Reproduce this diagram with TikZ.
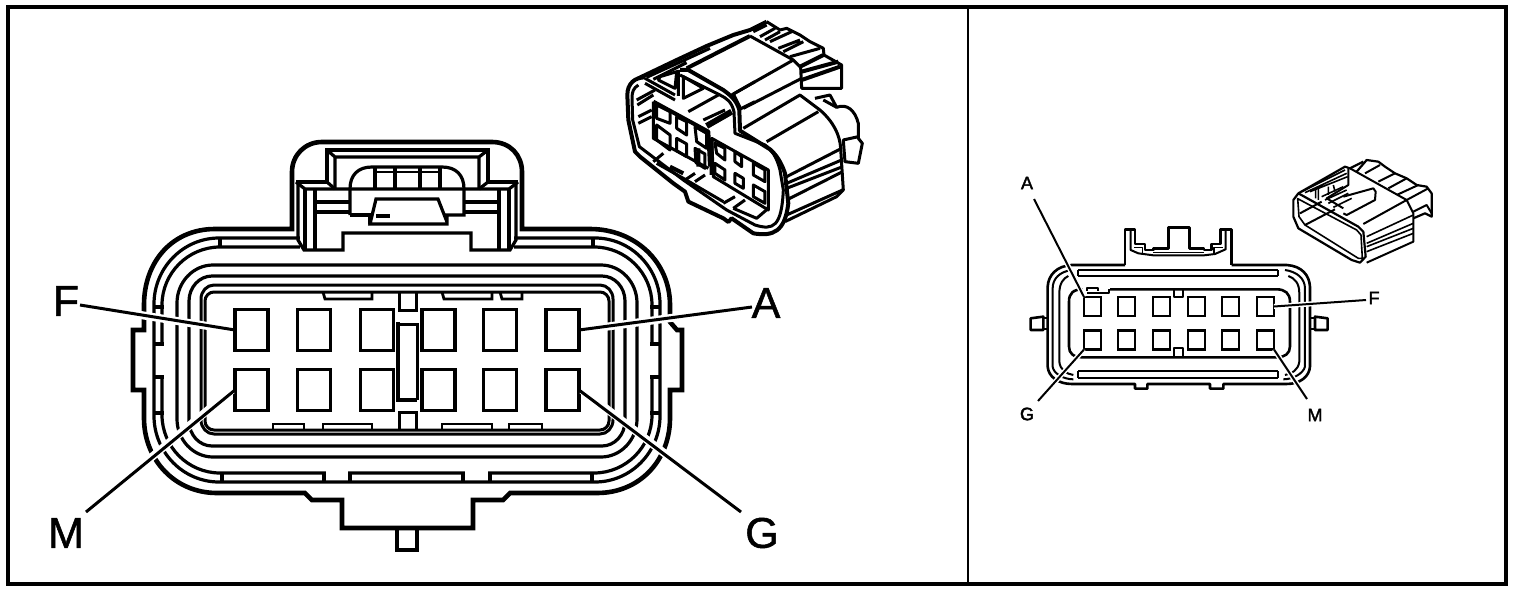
\documentclass[tikz,border=0pt]{standalone}
\usepackage{fontspec}
\usetikzlibrary{calc}
\setmainfont{Liberation Sans}
\newfontfamily\bigf[FakeBold=1.2]{Liberation Sans}
\newfontfamily\smallf[FakeBold=2.2]{Liberation Sans}
\newcommand{\ring}[7][]{%
 \pgfmathsetmacro\aL{#2+#6}\pgfmathsetmacro\aR{#4-#6}\pgfmathsetmacro\aT{#3+#7}\pgfmathsetmacro\aB{#5-#7}%
 \pgfmathsetmacro\kx{0.45*#6}\pgfmathsetmacro\ky{0.45*#7}%
 \pgfmathsetmacro\cL{#2+\kx}\pgfmathsetmacro\cR{#4-\kx}\pgfmathsetmacro\cT{#3+\ky}\pgfmathsetmacro\cB{#5-\ky}%
 \draw[#1] (\aL,#3) -- (\aR,#3) .. controls (\cR,#3) and (#4,\cT) .. (#4,\aT) -- (#4,\aB)
  .. controls (#4,\cB) and (\cR,#5) .. (\aR,#5) -- (\aL,#5)
  .. controls (\cL,#5) and (#2,\cB) .. (#2,\aB) -- (#2,\aT)
  .. controls (#2,\cT) and (\cL,#3) .. (\aL,#3) -- cycle;}
\tikzset{
 ln/.style={line width=3.2pt,line join=miter},
 thk/.style={line width=4.6pt,line join=miter},
 lab/.style={font=\bigf\fontsize{43}{43}\selectfont,inner sep=0pt},
 slab/.style={font=\smallf\fontsize{18}{18}\selectfont,inner sep=0pt},
 pinb/.style={draw,line width=3.2pt,inner sep=0pt,outer sep=0pt,minimum width=33pt,minimum height=41pt},
 spin/.style={draw,line width=2.2pt,inner sep=0pt,outer sep=0pt,minimum width=17pt,minimum height=19pt},
 halo/.style={white,line width=8pt},
 lead/.style={line width=3pt},
 sln/.style={line width=2pt,line join=round},
 iso/.style={line width=3pt,line join=round},
 isob/.style={line width=4pt,line join=round},
 isos/.style={line width=1.6pt,line join=round},
}
\begin{document}
\begin{tikzpicture}[x=1pt,y=-1pt]
\useasboundingbox (0,0) rectangle (1520,592);
\fill[white] (0,0) rectangle (1520,592);
% frame
\draw[line width=3.4pt] (8,7) rectangle (1506,584);
\draw[line width=2pt] (968,7) -- (968,584);
% ---------- large front view: rings
\ring[ln]{177}{265}{637}{457}{36}{38}
\ring[ln]{189}{276}{625}{446}{23}{25}
\ring[ln,line width=3pt]{201}{285}{613}{434}{13}{14}
\ring[ln,line width=3pt]{205}{292}{609}{430}{9}{9}
\ring[ln]{154}{238}{660}{482}{65}{66}
\ring[ln]{162}{247}{652}{473}{58}{58}
\fill[white] (158,344) rectangle (166,376);
\fill[white] (648,344) rectangle (656,376);
\fill[white] (326,469) rectangle (348,477);
\fill[white] (465,469) rectangle (488,477);
\fill[white] (300,233) rectangle (514,252);
% caps of the ring segments
\draw[ln] (153,344) -- (164,344) (153,377) -- (164,377) (153,413) -- (164,413);
\draw[ln] (650,344) -- (661,344) (650,377) -- (661,377) (650,413) -- (661,413);
\draw[ln] (153,307) -- (164,307) (650,307) -- (661,307);
\draw[ln] (222,473) -- (222,482) (324,473) -- (324,482) (350,473) -- (350,482) (463,473) -- (463,482) (490,473) -- (490,482) (592,473) -- (592,482);
\draw[ln] (220,238) -- (220,247) (593,238) -- (593,247);
% outer contour
\draw[thk] (292,172) .. controls (292,155) and (305,142) .. (322,142) -- (492,142) .. controls (510,142) and (522,155) .. (522,172) -- (522,229) -- (590,229)
 .. controls (635,229) and (670,262) .. (670,305) -- (670,322) -- (677,330) -- (682,330) -- (682,390) -- (670,390) -- (670,418)
 .. controls (670,460) and (640,493) .. (597,493) -- (510,493) -- (503,500) -- (473,500) -- (473,528) -- (342,528) -- (342,500) -- (312,500) -- (305,493) -- (217,493)
 .. controls (175,493) and (144,460) .. (144,418) -- (144,390) -- (133,390) -- (133,330) -- (144,330) -- (144,305)
 .. controls (144,262) and (172,229) .. (215,229) -- (292,229) -- cycle;
\draw[ln,line width=4pt] (397,528) -- (397,550) -- (417,550) -- (417,528);
% tab interior
\fill[white] (299,184) rectangle (516,232);
\draw[ln] (298,181) -- (298,240) -- (304,250) -- (343,250) -- (343,233) -- (471,233) -- (471,250) -- (510,250) -- (516,240) -- (516,181);
\draw[ln] (305,189) -- (305,250) (315,189) -- (315,250) (509,189) -- (509,250) (499,189) -- (499,250);
\draw[ln] (296,182) -- (305,189) -- (509,189) -- (518,182);
\draw[ln] (296,182) -- (327,182) -- (327,150) -- (488,150) -- (488,182) -- (518,182);
\draw[ln] (327,150) -- (335,157) -- (479,157) -- (488,150) (335,157) -- (335,189) (479,157) -- (479,189);
\draw[ln] (327,182) -- (335,189) (488,182) -- (479,189);
\draw[ln] (315,202) -- (350,202) (315,212) -- (350,212) (464,202) -- (499,202) (464,212) -- (499,212);
\draw[ln] (350,215) -- (350,189) .. controls (350,175) and (358,167) .. (372,167) -- (442,167) .. controls (456,167) and (464,175) .. (464,189) -- (464,215) -- (447,215) -- (447,224) -- (370,224) -- (376,199) -- (438,199) -- (447,222);
\draw[ln] (350,215) -- (370,215) -- (370,224) (376,216) -- (390,216);
\draw[ln] (375,167) -- (375,189) (395,167) -- (395,189) (420,167) -- (420,189) (440,167) -- (440,189);
\draw[line width=2pt] (375,172) -- (440,172);
% small bars and centre keys
\draw[line width=2.8pt] (323,292) -- (325,299) -- (372,299) -- (372,292);
\draw[line width=2.8pt] (442,292) -- (444,299) -- (492,299) -- (492,292);
\draw[line width=2.8pt] (500,292) -- (502,299) -- (522,299) -- (522,292);
\draw[line width=2.8pt] (273,430) -- (273,424) -- (304,424) -- (304,430);
\draw[line width=2.8pt] (323,430) -- (323,424) -- (372,424) -- (372,430);
\draw[line width=2.8pt] (442,430) -- (442,424) -- (492,424) -- (492,430);
\draw[line width=2.8pt] (509,430) -- (509,424) -- (542,424) -- (542,430);
\draw[line width=3pt] (399,292) -- (399,310) -- (416,310) -- (416,292);
\draw[line width=3pt] (399,430) -- (399,412) -- (416,412) -- (416,430);
\draw[line width=4pt] (398,322) -- (398,400) -- (417,400);
\draw[line width=3pt] (398,324) -- (417,324) -- (417,400);
% pins and leaders
\node[lab,anchor=center] (labF) at (66,301) {F};
\node[lab,anchor=center] (labA) at (766,303) {A};
\node[lab,anchor=center] (labM) at (66,533) {M};
\node[lab,anchor=center] (labG) at (762,533) {G};
\coordinate (lF) at (80,305);\coordinate (lA) at (752,307);\coordinate (lM) at (86,512);\coordinate (lG) at (741,512);
\node[pinb] (pF) at (251.5,330) {};
\node[pinb] (p2) at (314,330) {};
\node[pinb] (p3) at (377,330) {};
\node[pinb] (p4) at (438.5,330) {};
\node[pinb] (p5) at (500,330) {};
\node[pinb] (pA) at (562.5,330) {};
\node[pinb] (pM) at (251.5,390) {};
\node[pinb] (p8) at (314,390) {};
\node[pinb] (p9) at (377,390) {};
\node[pinb] (p10) at (438.5,390) {};
\node[pinb] (p11) at (500,390) {};
\node[pinb] (pG) at (562.5,390) {};
\draw[halo] (lF) -- ($(pF.west)+(-3,0)$);
\draw[halo] (lA) -- ($(pA.east)+(3,0)$);
\draw[halo] (lM) -- ($(pM.west)+(-3,0)$);
\draw[halo] (lG) -- ($(pG.east)+(3,0)$);
\draw[lead] (lF) -- (pF.west);
\draw[lead] (lA) -- (pA.east);
\draw[lead] (lM) -- (pM.west);
\draw[lead] (lG) -- (pG.east);
% ---------- large isometric view
\begin{scope}[x=.3333pt,y=-.3333pt,xshift=610pt,yshift=-20pt]
% top strip
\draw[isob] (85,175) -- (200,120) -- (290,78) -- (370,45) -- (420,30) -- (470,5);
\draw[iso] (110,172) -- (300,85) (130,178) -- (230,128);
% upper body
\draw[isob] (420,48) -- (230,145);
\draw[iso] (420,48) -- (550,120) -- (370,222) (550,120) -- (572,142) -- (575,205) -- (695,205) -- (695,135) -- (642,105) -- (640,85) -- (600,65) -- (570,45) -- (530,25) -- (510,30) -- (470,5);
\draw[iso] (400,265) -- (575,175) (370,222) -- (390,262);
\draw[iso] (430,35) -- (470,15) (450,50) -- (495,25) (465,60) -- (510,35) (480,65) -- (545,35) (505,85) -- (570,60) (520,95) -- (580,65) (540,110) -- (630,85);
\draw[isob] (570,140) -- (640,105) (575,155) -- (685,125) (575,180) -- (690,140);
% lower body
\draw[iso] (400,325) -- (570,225) -- (630,270) .. controls (670,305) and (690,345) .. (692,385) -- (700,510) -- (680,530) -- (525,605);
\draw[iso] (470,365) -- (625,275);
\draw[iso] (435,245) -- (385,270) (435,185) -- (365,225);
\draw[iso] (530,470) -- (695,385) (530,490) -- (695,420) (530,505) -- (698,440) (530,540) -- (698,455) (530,585) -- (698,510);
\draw[iso] (615,235) -- (660,225) -- (680,262) .. controls (710,250) and (735,270) .. (745,310) -- (745,355) -- (757,370) -- (745,430) -- (705,425) -- (700,360) -- (745,350);
\draw[iso] (640,240) -- (680,262);
% rim
\draw[isob] (105,172) .. controls (75,172) and (52,190) .. (52,225) -- (55,300) -- (75,395) -- (90,410) -- (190,490) -- (225,515) -- (235,545) -- (340,595) -- (355,606) -- (365,595) -- (430,640) .. controls (490,650) and (525,635) .. (535,550) -- (525,460) .. controls (515,430) and (500,405) .. (480,388) -- (390,332) -- (388,270) .. controls (380,240) and (360,225) .. (340,210) -- (235,150) -- (210,150);
\draw[iso] (85,195) .. controls (70,205) and (66,215) .. (66,235) -- (68,300) -- (88,380) -- (220,480) -- (350,570) -- (435,615) .. controls (490,632) and (515,620) .. (520,510) -- (510,450) .. controls (500,410) and (485,390) .. (465,375) -- (375,340) -- (372,275) .. controls (365,245) and (350,235) .. (330,225) -- (210,165);
\draw[iso] (105,175) -- (195,225) (105,190) -- (195,240);
\draw[iso] (205,150) -- (205,228) (150,170) -- (200,155) -- (195,205) -- (145,180) -- cycle;
\draw[iso] (220,170) -- (280,205) -- (220,235) -- cycle;
\draw[iso] (235,275) -- (325,225) (280,300) -- (345,270);
\draw[isob,line width=6pt] (290,318) -- (365,275);
\draw[iso] (80,240) -- (135,210) (82,255) -- (130,225) (85,290) -- (125,270) (85,310) -- (125,290);
% pin plates
\draw[isob] (130,245) -- (295,335) -- (300,440);
\draw[iso] (130,245) -- (130,355) -- (295,445);
\draw[iso] (305,355) -- (475,450) -- (475,570) -- (310,470) -- cycle;
\draw[isob] (180,440) -- (220,460) (265,385) -- (265,440) (305,355) -- (305,465);
\draw[iso] (140,255) -- (180,275) -- (180,310) -- (140,295) -- cycle;
\draw[iso] (200,290) -- (230,305) -- (230,345) -- (200,325) -- cycle;
\draw[iso] (255,320) -- (290,340) -- (290,385) -- (260,365) -- cycle;
\draw[iso] (140,315) -- (180,345) -- (180,390) -- (140,360) -- cycle;
\draw[iso] (200,355) -- (230,372) -- (230,410) -- (200,392) -- cycle;
\draw[iso] (255,385) -- (285,402) -- (285,445) -- (258,428) -- cycle;
\draw[iso] (315,370) -- (345,385) -- (345,420) -- (320,400) -- cycle;
\draw[iso] (375,395) -- (395,410) -- (395,440) -- (375,425) -- cycle;
\draw[iso] (430,430) -- (465,450) -- (465,485) -- (430,465) -- cycle;
\draw[iso] (315,430) -- (345,450) -- (345,480) -- (315,460) -- cycle;
\draw[iso] (375,460) -- (400,475) -- (400,505) -- (375,490) -- cycle;
\draw[iso] (430,495) -- (465,515) -- (465,550) -- (430,530) -- cycle;
% skirt under plates
\draw[iso] (130,425) -- (160,400) (225,480) -- (255,460) (255,485) -- (285,465) (340,550) -- (375,530) (370,565) -- (405,540);
\draw[iso] (140,430) -- (220,475) -- (340,545) (370,565) -- (440,595) -- (475,565);
\end{scope}
% ---------- small front view
\begin{scope}[x=.3333pt,y=-.3333pt,xshift=1010pt,yshift=-170pt]
\draw[sln,line width=2.6pt] (345,285) -- (185,285) .. controls (140,288) and (115,315) .. (113,350) -- (113,590) .. controls (115,620) and (145,642) .. (185,642) -- (375,642) -- (375,656) -- (412,656) -- (412,642) -- (600,642) -- (600,656) -- (640,656) -- (640,642) -- (830,642) .. controls (870,642) and (898,620) .. (900,590) -- (900,350) .. controls (898,315) and (875,288) .. (830,285) -- (665,285);
\draw[sln,line width=2.6pt] (345,285) -- (345,178) -- (375,178) -- (375,222) -- (405,222) -- (405,240) -- (430,240) -- (430,235) -- (475,235) -- (475,173) -- (538,173) -- (538,235) -- (582,235) -- (582,240) -- (605,240) -- (605,222) -- (632,222) -- (632,178) -- (665,178) -- (665,285);
\draw[sln] (362,180) -- (362,240) -- (385,250) -- (430,256) -- (582,256) -- (615,252) -- (647,238) -- (647,180);
\draw[sln,line width=1.4pt] (372,232) -- (398,232) -- (398,248) (430,247) -- (582,247) (612,248) -- (612,232) -- (638,232);
% rings
\draw[sln] (205,300) -- (805,300) (205,318) -- (805,318) (205,300) -- (205,318) (805,300) -- (805,318);
\draw[sln] (205,603) -- (805,603) (205,623) -- (805,623) (205,603) -- (205,623) (805,603) -- (805,623);
\draw[sln] (185,300) .. controls (150,305) and (128,325) .. (128,355) -- (128,590) .. controls (130,610) and (160,628) .. (190,628);
\draw[sln] (175,318) .. controls (160,325) and (148,340) .. (148,370) -- (148,575) .. controls (150,600) and (170,612) .. (190,615);
\draw[sln] (825,300) .. controls (860,305) and (885,325) .. (885,355) -- (885,590) .. controls (880,610) and (850,628) .. (820,628);
\draw[sln] (835,318) .. controls (855,325) and (868,340) .. (868,370) -- (868,575) .. controls (865,600) and (845,612) .. (825,615);
% inner
\draw[sln,line width=2.6pt] (300,358) -- (800,358) .. controls (825,358) and (840,370) .. (840,395) -- (840,530) .. controls (840,550) and (825,562) .. (800,562) -- (218,562) .. controls (190,562) and (177,550) .. (177,530) -- (177,395) .. controls (177,370) and (190,358) .. (218,358);
\draw[sln] (232,362) -- (232,354) -- (265,354) -- (265,362) (232,370) -- (298,370) -- (298,358);
% tabs
\draw[sln,line width=2.6pt] (100,440) -- (62,445) -- (62,480) -- (100,480) -- cycle;
\draw[sln,line width=2.6pt] (915,440) -- (953,445) -- (953,480) -- (915,480) -- cycle;
\draw[sln] (100,445) -- (113,445) (100,476) -- (113,476) (900,445) -- (915,445) (900,476) -- (915,476);
\draw[sln] (493,358) -- (493,382) -- (520,382) -- (520,358);
\draw[sln] (493,562) -- (493,535) -- (520,535) -- (520,562);
\end{scope}
\node[spin] (sA) at (1092.5,306.5) {};
\node[spin] (s2) at (1126.5,306.5) {};
\node[spin] (s3) at (1161.5,306.5) {};
\node[spin] (s4) at (1196.5,306.5) {};
\node[spin] (s5) at (1230.5,306.5) {};
\node[spin] (sF) at (1265.5,306.5) {};
\node[spin] (sG) at (1092.5,340) {};
\node[spin] (s8) at (1126.5,340) {};
\node[spin] (s9) at (1161.5,340) {};
\node[spin] (s10) at (1196.5,340) {};
\node[spin] (s11) at (1230.5,340) {};
\node[spin] (sM) at (1265.5,340) {};
\node[slab] (tA) at (1027,183) {A};
\node[slab] (tG) at (1027,414) {G};
\node[slab] (tM) at (1315,415) {M};
\node[slab] (tF) at (1374,298) {F};
\coordinate (eA) at (1034,199);\coordinate (eG) at (1038,401);\coordinate (eM) at (1307,399);\coordinate (eF) at (1366,300);
\draw[white,line width=5pt] (eA) -- (sA.north west) (eG) -- (sG.south west) (eM) -- (sM.south east) (eF) -- (sF.east);
\draw[line width=2pt] (eA) -- (sA.north west);
\draw[line width=2pt] (eG) -- (sG.south west);
\draw[line width=2pt] (eM) -- (sM.south east);
\draw[line width=2pt] (eF) -- (sF.east);
% ---------- small isometric view
\begin{scope}[x=.3333pt,y=-.3333pt,xshift=1285pt,yshift=-150pt]
% front rim
\draw[isos,line width=2.2pt] (25,150) -- (40,130) -- (220,230) -- (235,245) -- (242,320) -- (225,338) -- (200,330) -- (40,235) -- (25,200) -- cycle;
\draw[isos] (38,146) -- (42,200) -- (60,225) -- (220,325) -- (232,325) -- (228,255) -- (215,240) -- cycle;
% roof and top
\draw[isos,line width=2.2pt] (40,130) -- (180,50) -- (195,55) -- (235,35);
\draw[isos] (50,125) -- (180,60) (60,128) -- (185,70) (75,125) -- (188,80);
\draw[isos,line width=2pt] (195,55) -- (365,150) -- (235,222) (365,150) -- (385,190) -- (385,275) -- (245,338);
% fingers
\draw[isos,line width=2.2pt] (215,65) -- (245,30) -- (280,35) -- (300,50) -- (330,70) -- (365,85) -- (395,105) -- (425,110) -- (440,130) -- (440,200) -- (420,190) -- (385,205);
\draw[isos,line width=2pt] (240,70) -- (285,45) (280,95) -- (330,70) (310,115) -- (365,85) (335,135) -- (400,105) (365,150) -- (430,115) (385,185) -- (425,165) -- (440,190);
% side ribs
\draw[isos] (245,260) -- (385,195) (245,280) -- (385,220) (245,290) -- (385,235) (245,305) -- (385,250);
% interior
\draw[isos,line width=2pt] (175,140) -- (265,115) -- (272,125) -- (270,150) -- (185,195) -- (175,190);
\draw[isos,line width=2pt] (190,55) -- (190,105) -- (125,145) -- (175,175);
\draw[isos] (100,115) -- (100,150) (92,120) -- (92,145) (110,140) -- (175,110) (120,150) -- (185,120) (130,160) -- (190,130) (145,172) -- (200,145) (130,110) -- (130,135) (145,105) -- (150,125);
\draw[isos,line width=2pt] (45,190) -- (110,155) (60,225) -- (150,178);
\end{scope}
\end{tikzpicture}
\end{document}
